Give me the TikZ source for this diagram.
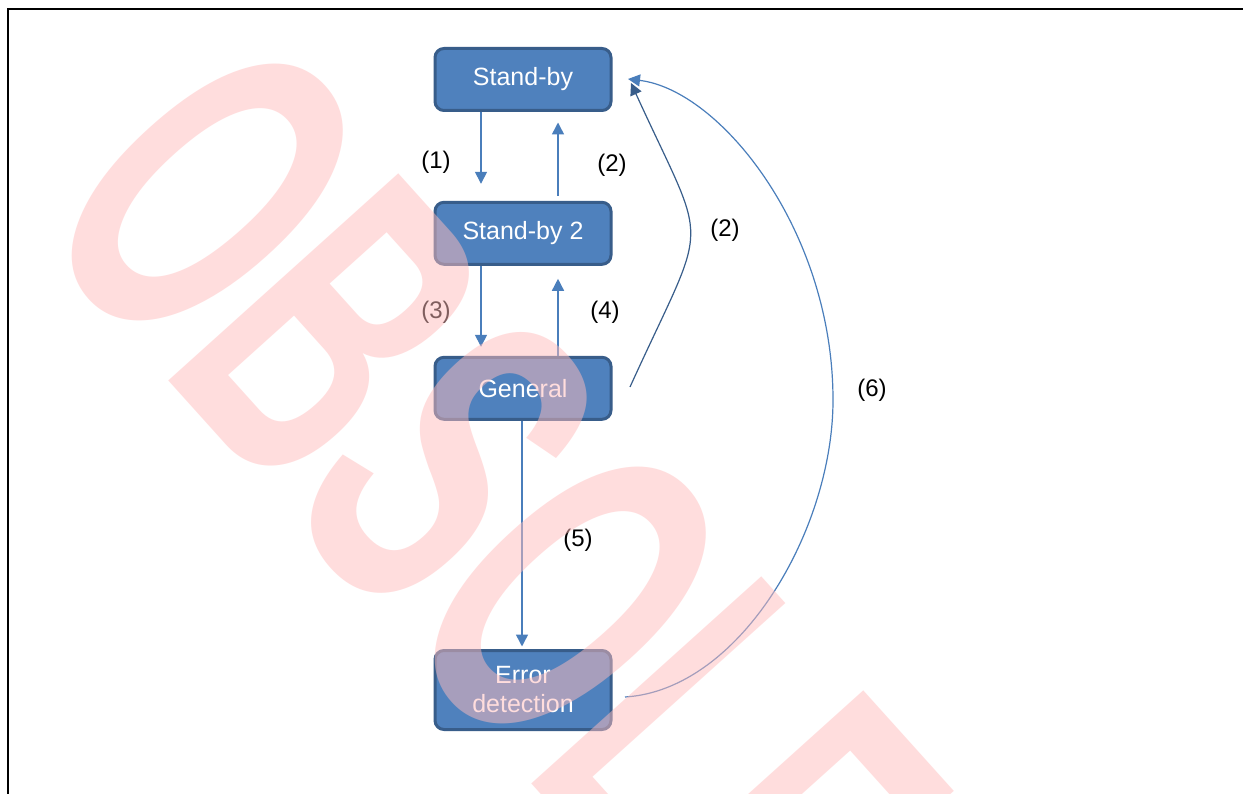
\documentclass[tikz,border=0pt]{standalone}
\usepackage{fontspec}
\setmainfont{Liberation Sans}
\usetikzlibrary{arrows.meta}
\definecolor{boxfill}{HTML}{4F81BD}
\definecolor{boxline}{HTML}{385D8A}
\definecolor{arrowblue}{HTML}{4A7EBB}
\definecolor{darkarrow}{HTML}{385D8A}
\definecolor{wmpink}{RGB}{255,188,188}
\begin{document}
\begin{tikzpicture}[x=1pt,y=-1pt,
  box/.style={draw=boxline, fill=boxfill, line width=3pt, rounded corners=9pt,
    minimum width=176pt, minimum height=62pt, inner sep=0pt, text=white,
    font=\fontsize{25}{29}\selectfont},
  lbl/.style={inner sep=0pt, text=black, font=\fontsize{24}{28}\selectfont},
  arr/.style={draw=arrowblue, line width=1.5pt, -{Triangle[length=12pt,width=12pt]}},
  curvearr/.style={line width=1.2pt, -{Triangle[length=12pt,width=12pt]}},
  wm/.style={inner sep=0pt, text=wmpink, text opacity=0.5,
    font=\bfseries\fontsize{450}{450}\selectfont}
]
\useasboundingbox (0,0) rectangle (1243,794);
\clip (0,0) rectangle (1243,794);
\fill[white] (0,0) rectangle (1243,794);
% frame
\draw[line width=2pt] (8,800) -- (8,9.5) -- (1250,9.5);
% boxes
\node[box] (sb) at (523,79.5) {Stand-by};
\node[box] (sb2) at (523,233.3) {Stand-by 2};
\node[box] (gen) at (523,388.3) {General};
\node[box, minimum height=79pt, align=center] (err) at (523,690) {Error\\detection};
% straight arrows
\draw[arr, shorten >=17pt] ([xshift=-42pt]sb.south) -- ([xshift=-42pt]sb2.north);
\draw[arr, shorten <=5pt, shorten >=10.5pt] ([xshift=35pt]sb2.north) -- ([xshift=35pt]sb.south);
\draw[arr, shorten >=9pt] ([xshift=-42pt]sb2.south) -- ([xshift=-42pt]gen.north);
\draw[arr, shorten >=13pt] ([xshift=35pt]gen.north) -- ([xshift=35pt]sb2.south);
\draw[arr, shorten >=2.5pt] ([xshift=-1pt]gen.south) -- ([xshift=-1pt]err.north);
% curve end points
\coordinate (c2a) at (630,387);
\coordinate (c2b) at (631,83);
\coordinate (c6a) at (625,697);
\coordinate (c6b) at (628,79);
\draw[curvearr, draw=darkarrow] (c2a) .. controls (710,211) and (710,256) .. (c2b);
\draw[curvearr, draw=arrowblue] (c6a) .. controls (740,690) and (833,530) .. (833,400)
   .. controls (833,230) and (720,90) .. (c6b);
% labels
\node[lbl] (l1) at (436,162) {(1)};
\node[lbl] (l2) at (612,165) {(2)};
\node[lbl] (l3) at (436,312) {(3)};
\node[lbl] (l4) at (605,312) {(4)};
\node[lbl] (l5) at (578,540) {(5)};
\node[lbl] (l2b) at (725,230) {(2)};
\node[lbl] (l6) at (872,390) {(6)};
% watermark
\node[wm, anchor=base west, rotate=-48, xscale=0.556] (wmk) at (27.5,224.2) {OBSOLETE};
\end{tikzpicture}
\end{document}
